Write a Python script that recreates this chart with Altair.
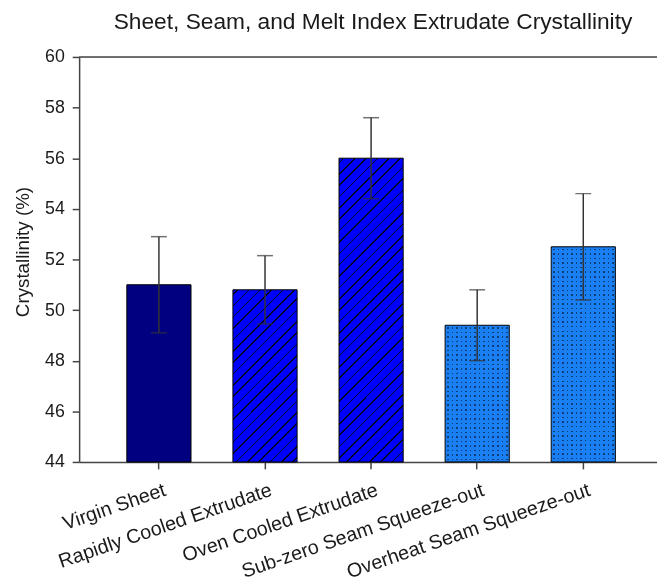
import altair as alt
import pandas as pd

# ---- data ----
categories = [
    "Virgin Sheet",
    "Rapidly Cooled Extrudate",
    "Oven Cooled Extrudate",
    "Sub-zero Seam Squeeze-out",
    "Overheat Seam Squeeze-out",
]
crystallinity = [51.0, 50.8, 56.0, 49.4, 52.5]
std_dev = [1.9, 1.35, 1.6, 1.4, 2.1]

df = pd.DataFrame({"category": categories, "value": crystallinity, "err": std_dev})
df["lo"] = df["value"] - df["err"]
df["hi"] = df["value"] + df["err"]

# ---- layout constants ----
Y_MIN, Y_MAX = 44, 60
PLOT_W, PLOT_H = 585, 410
PX_PER_UNIT = PLOT_H / (Y_MAX - Y_MIN)
BAR_W = 65
FONT = "Liberation Sans"

NAVY = "#000080"
BLUE = "#0000ff"
LIGHT = "#1a7ff2"


def stops_from(total, spacing, line, start, base_color, line_color):
    stops = [alt.GradientStop(offset=0, color=base_color)]
    k = 0
    while True:
        a = (start + k * spacing) / total
        b = (start + k * spacing + line) / total
        if b >= 1:
            break
        stops += [
            alt.GradientStop(offset=a, color=base_color),
            alt.GradientStop(offset=a, color=line_color),
            alt.GradientStop(offset=b, color=line_color),
            alt.GradientStop(offset=b, color=base_color),
        ]
        k += 1
    stops.append(alt.GradientStop(offset=1, color=base_color))
    return stops


def hatch_gradient(value, base_color, spacing=11.5, line=1.6):
    """Diagonal '/' hatch expressed as a linear gradient in bbox units."""
    w = BAR_W
    h = (value - Y_MIN) * PX_PER_UNIT
    s = (w + h) / (w * w + h * h)
    stops = stops_from(w + h, spacing, line, 4, base_color, "#000022")
    return alt.LinearGradient(gradient="linear", x1=0, y1=0, x2=s * w, y2=s * h, stops=stops)


def stripe_gradient(length, vertical, spacing=4.6, line=1.5):
    stops = stops_from(length, spacing, line, 2, "#ffffff", "#7a7a7a")
    if vertical:
        return alt.LinearGradient(gradient="linear", x1=0, y1=0, x2=1, y2=0, stops=stops)
    return alt.LinearGradient(gradient="linear", x1=0, y1=0, x2=0, y2=1, stops=stops)


x_enc = alt.X(
    "category:N",
    sort=categories,
    scale=alt.Scale(
        domain=categories, paddingInner=0.395, paddingOuter=0.421, align=0.534, round=False
    ),
    axis=alt.Axis(
        title=None,
        labelAngle=-19,
        labelAlign="right",
        labelBaseline="top",
        labelFont=FONT,
        labelFontSize=20,
        labelColor="#1a1a1a",
        labelPadding=11,
        labelOffset=3,
        tickSize=7,
        tickWidth=1.5,
        tickColor="#444",
        domainColor="#444",
        domainWidth=1.5,
        labelOverlap=False,
        labelLimit=400,
    ),
)
y_enc = alt.Y(
    "value:Q",
    scale=alt.Scale(domain=[Y_MIN, Y_MAX], nice=False, zero=False),
    axis=alt.Axis(
        title="Crystallinity (%)",
        titleFont=FONT,
        titleFontSize=19,
        titleFontWeight="normal",
        titleColor="#1a1a1a",
        titlePadding=12,
        titleY=197,
        values=list(range(Y_MIN, Y_MAX + 1, 2)),
        labelFont=FONT,
        labelFontSize=18,
        labelColor="#1a1a1a",
        labelPadding=8,
        tickSize=7,
        tickWidth=1.5,
        tickColor="#444",
        domainColor="#444",
        domainWidth=1.5,
        grid=False,
    ),
)

base = alt.Chart(df)


def bar_layer(cat, **mark_kw):
    return (
        base.transform_filter(alt.datum.category == cat)
        .mark_bar(**mark_kw)
        .encode(x=x_enc, y=y_enc, y2=alt.datum(Y_MIN))
    )


layers = [
    bar_layer(categories[0], fill=NAVY, stroke="#000000", strokeWidth=1),
    bar_layer(categories[1], fill=hatch_gradient(crystallinity[1], BLUE), stroke="#000000", strokeWidth=1),
    bar_layer(categories[2], fill=hatch_gradient(crystallinity[2], BLUE), stroke="#000000", strokeWidth=1),
]
# dotted bars: vertical stripes, horizontal stripes (lighten -> dots), colour (multiply)
for i in (3, 4):
    h = (crystallinity[i] - Y_MIN) * PX_PER_UNIT
    layers.append(bar_layer(categories[i], fill=stripe_gradient(BAR_W, True)))
    layers.append(bar_layer(categories[i], fill=stripe_gradient(h, False), blend="lighten"))
    layers.append(
        bar_layer(categories[i], fill=LIGHT, blend="multiply", stroke="#000000", strokeWidth=1)
    )

err_rule = base.mark_rule(color="#333333", strokeWidth=1.5).encode(
    x=alt.X("category:N", sort=categories), y=alt.Y("lo:Q"), y2="hi:Q"
)
err_cap_hi = base.mark_tick(color="#333333", thickness=1.5, size=16).encode(
    x=alt.X("category:N", sort=categories), y=alt.Y("hi:Q")
)
err_cap_lo = base.mark_tick(color="#333333", thickness=1.5, size=16).encode(
    x=alt.X("category:N", sort=categories), y=alt.Y("lo:Q")
)
top_frame = alt.Chart(pd.DataFrame({"v": [Y_MAX]})).mark_rule(
    color="#444444", strokeWidth=1.5
).encode(y=alt.Y("v:Q"))

chart = (
    alt.layer(*layers, err_rule, err_cap_lo, err_cap_hi, top_frame)
    .properties(
        width=PLOT_W,
        height=PLOT_H,
        title=alt.TitleParams(
            "Sheet, Seam, and Melt Index Extrudate Crystallinity",
            font=FONT,
            fontSize=23,
            fontWeight="normal",
            color="#1a1a1a",
            anchor="middle",
            offset=14,
            dx=5,
        ),
        autosize=alt.AutoSizeParams(type="none"),
        padding={"left": 72, "top": 46, "right": 0, "bottom": 119},
    )
    .configure_view(stroke=None)
    .configure(background="white")
)

chart.save("out.html", embed_options={"renderer": "svg", "actions": False})
